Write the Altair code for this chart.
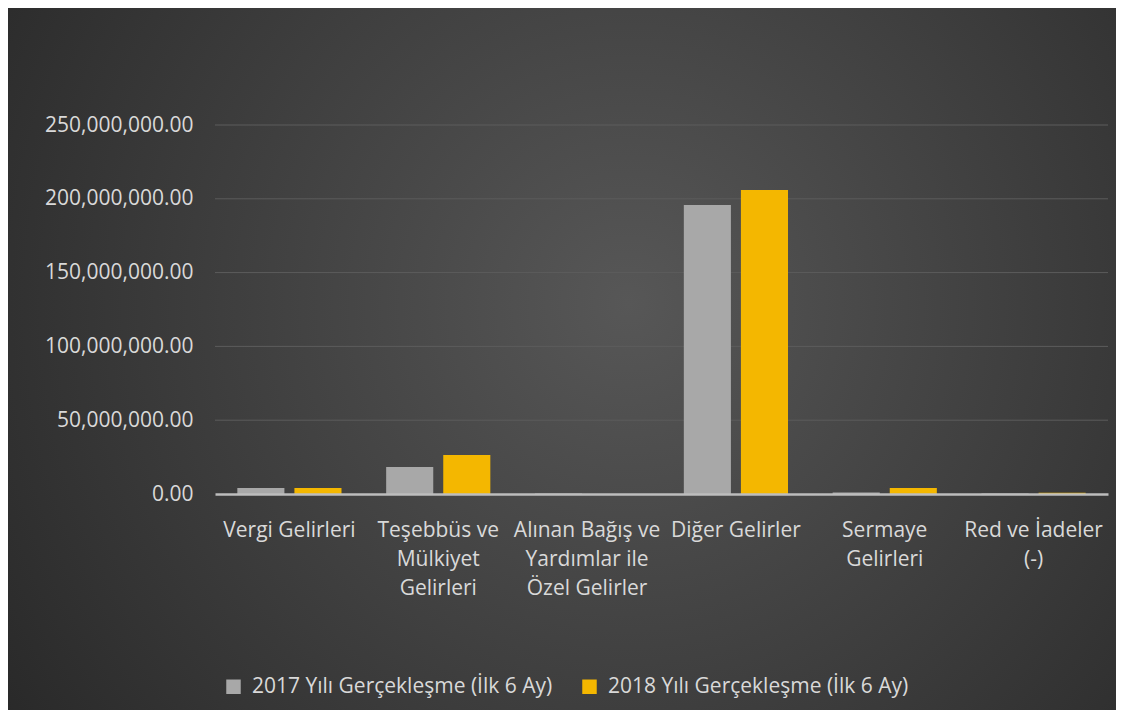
import altair as alt
import pandas as pd

categories = [
    "Vergi Gelirleri",
    "Teşebbüs ve\nMülkiyet\nGelirleri",
    "Alınan Bağış ve\nYardımlar ile\nÖzel Gelirler",
    "Diğer Gelirler",
    "Sermaye\nGelirleri",
    "Red ve İadeler\n(-)",
]
series = ["2017 Yılı Gerçekleşme (İlk 6 Ay)", "2018 Yılı Gerçekleşme (İlk 6 Ay)"]
values_2017 = [4_100_000, 18_300_000, 300_000, 195_800_000, 1_000_000, 300_000]
values_2018 = [4_100_000, 26_400_000, 50_000, 206_000_000, 4_000_000, 800_000]
y_ticks = [0, 50_000_000, 100_000_000, 150_000_000, 200_000_000, 250_000_000]

rows = []
for c, a, b in zip(categories, values_2017, values_2018):
    rows.append({"kategori": c, "seri": series[0], "deger": a})
    rows.append({"kategori": c, "seri": series[1], "deger": b})
df = pd.DataFrame(rows)

FONT = "Open Sans"
TXT = "#d9d9d9"
FS = 21
W, H = 893, 369
PL, PT, PR, PB = 207, 117, 8, 216

yscale = alt.Scale(domain=[0, 250_000_000], nice=False)
yaxis = alt.Axis(
    values=y_ticks,
    format=",.2f",
    labelFont=FONT,
    labelFontSize=FS,
    labelColor=TXT,
    labelPadding=22,
    ticks=False,
    domain=False,
    grid=False,
    zindex=1,
    title=None,
)

bg = alt.Chart(pd.DataFrame({"a": [0]})).mark_rect(
    fill={
        "gradient": "radial",
        "x1": 0.56, "y1": 0.45, "r1": 0.0,
        "x2": 0.56, "y2": 0.45, "r2": 0.75,
        "stops": [
            {"offset": 0, "color": "#575757"},
            {"offset": 1, "color": "#242424"},
        ],
    },
    stroke=None,
).encode(
    x=alt.value(-PL), x2=alt.value(W + PR),
    y=alt.value(-PT), y2=alt.value(H + PB),
)

grid = alt.Chart(pd.DataFrame({"t": y_ticks[1:]})).mark_rule(
    color="#5c5c5c", strokeWidth=1
).encode(
    y=alt.Y("t:Q", scale=yscale, axis=yaxis, title=None),
    x=alt.value(0), x2=alt.value(W),
)

bars = alt.Chart(df).mark_bar(stroke=None).encode(
    x=alt.X(
        "kategori:N",
        sort=categories,
        title=None,
        scale=alt.Scale(paddingInner=0.3, paddingOuter=0.15),
        axis=alt.Axis(
            labelExpr="split(datum.value, '\\n')",
            labelAngle=0,
            labelFont=FONT,
            labelFontSize=FS,
            labelColor=TXT,
            labelPadding=25,
            labelLineHeight=29,
            labelBaseline="top",
            labelLimit=250,
            ticks=False,
            domainColor="#bdbdbd",
            domainWidth=2.5,
            grid=False,
            zindex=1,
        ),
    ),
    xOffset=alt.XOffset(
        "seri:N", sort=series,
        scale=alt.Scale(paddingInner=0.175, paddingOuter=0),
    ),
    y=alt.Y("deger:Q", title=None, scale=yscale, axis=yaxis),
    color=alt.Color(
        "seri:N",
        sort=series,
        scale=alt.Scale(domain=series, range=["#a8a8a8", "#f4b700"]),
        legend=alt.Legend(
            title=None,
            orient="none",
            direction="horizontal",
            legendX=8,
            legendY=551,
            symbolType="square",
            symbolSize=210,
            symbolStrokeWidth=0,
            labelFont=FONT,
            labelFontSize=FS,
            labelColor=TXT,
            labelLimit=500,
            columnPadding=26,
            labelOffset=8,
            zindex=1,
        ),
    ),
)

chart = alt.layer(bg, grid, bars).properties(
    width=W,
    height=H,
    padding={"left": PL, "top": PT, "right": PR, "bottom": PB},
    autosize=alt.AutoSizeParams(type="none"),
    background="#2b2b2b",
).configure_view(stroke=None)

chart.save("out.html", embed_options={"renderer": "svg", "actions": False})
